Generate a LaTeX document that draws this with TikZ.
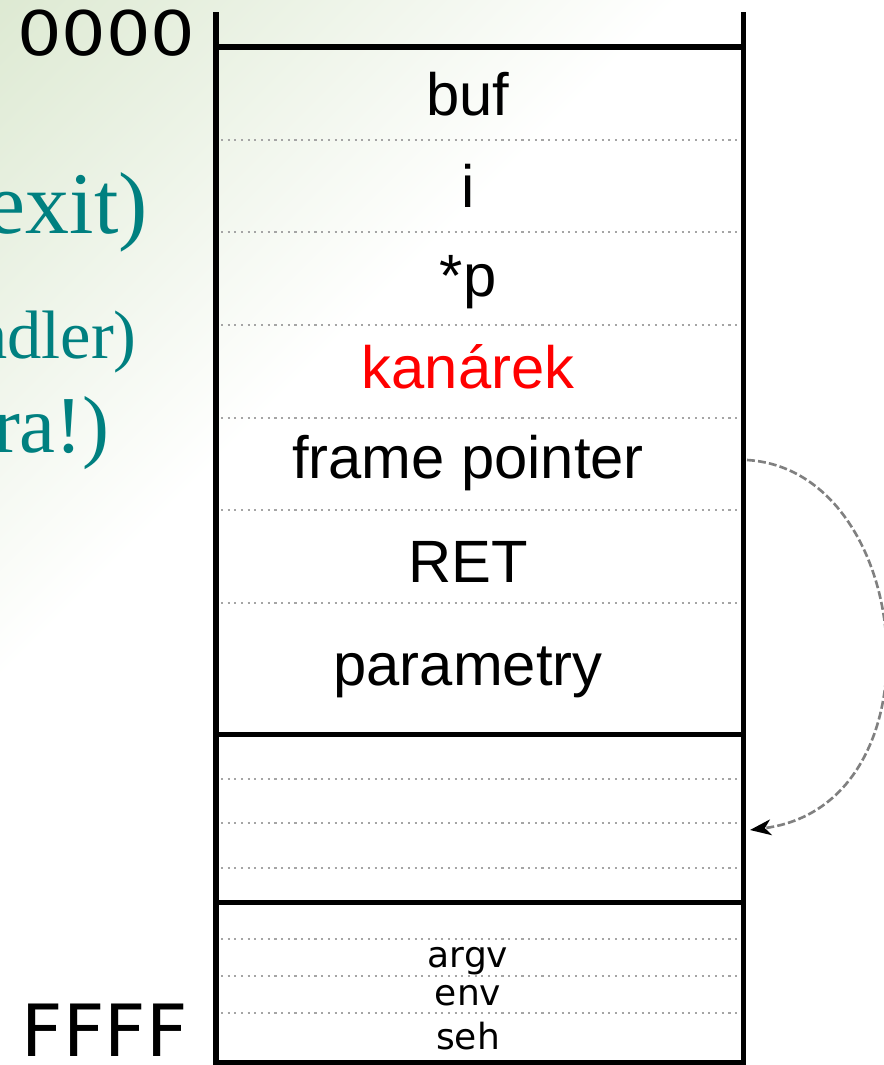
\documentclass[tikz,border=0pt]{standalone}
\usepackage{fontspec}
\usetikzlibrary{arrows.meta, positioning}
\newfontfamily\stackfont{Liberation Sans}
\newfontfamily\addrfont{DejaVu Sans}
\newfontfamily\slidefont{Liberation Serif}
\definecolor{SlideGreen}{RGB}{208, 225, 193}
\definecolor{SlideTeal}{RGB}{0, 128, 128}
\definecolor{CanaryRed}{RGB}{255, 0, 0}
\definecolor{SlotGray}{RGB}{165, 165, 165}
\pgfdeclareverticalshading{slidefade}{100bp}{color(0bp)=(white); color(50bp)=(white); color(72bp)=(SlideGreen!45!white); color(100bp)=(SlideGreen)}

\begin{document}
\begin{tikzpicture}[x=0.02cm, y=-0.02cm,
    wall/.style={line width=2.85pt},
    slot/.style={SlotGray, line width=1.2pt, dash pattern=on 1.2pt off 2.6pt},
    cell/.style={anchor=base, font=\stackfont\fontsize{34}{40}\selectfont},
    small cell/.style={anchor=base, inner sep=0pt, font=\addrfont\fontsize{20.5}{24}\selectfont},
    addr/.style={anchor=base east, inner sep=0pt, font=\addrfont\fontsize{35}{40}\selectfont},
    slide/.style={anchor=base east, inner sep=0pt, SlideTeal, font=\slidefont\fontsize{50}{56}\selectfont},
    ptr/.style={gray, line width=1.5pt, dash pattern=on 4.5pt off 1.8pt,
      -{Stealth[black, length=12pt, width=9pt, inset=3.5pt]}}]
    \useasboundingbox (0,0) rectangle (884,1065);

    % Slide background
    \shade[shading=slidefade, shading angle=45] (0,0) -- (680,0) -- (0,680) -- cycle;

    % Slide text behind the stack
    \node[slide] (exit) at (148,233) {exit)};
    \node[slide, font=\slidefont\fontsize{39}{44}\selectfont] (handler) at (137,358) {ndler)};
    \node[slide, font=\slidefont\fontsize{46}{52}\selectfont] (extra) at (110,452) {ra!)};

    % Slots
    \foreach \y in {140, 232, 325, 418, 510, 603, 779, 823, 868, 939, 976, 1013}
      \draw[slot] (221,\y) -- (738,\y);

    % Stack walls and frame borders
    \draw[wall] (216,12) -- (216,1062) -- (743,1062) -- (743,12);
    \foreach \y in {47, 734, 902}
      \draw[wall] (216,\y) -- (743,\y);

    % Addresses
    \node[addr, xscale=1.14] (low) at (196,55) {0000};
    \node[addr, font=\addrfont\fontsize{41}{46}\selectfont] (high) at (188,1056) {FFFF};

    % Current frame
    \node[cell] (buf) at (468,115) {buf};
    \node[cell] (i) at (468,207) {i};
    \node[cell] (p) at (468,296) {*p};
    \node[cell, CanaryRed] (canary) at (468,388) {kanárek};
    \node[cell] (fp) at (468,478) {frame pointer};
    \node[cell] (ret) at (468,582) {RET};
    \node[cell] (params) at (468,685) {parametry};

    % Bottom of the stack
    \node[small cell] (argv) at (468,967) {argv};
    \node[small cell] (env) at (468,1005) {env};
    \node[small cell] (seh) at (468,1049) {seh};

    % Saved frame pointer
    \coordinate (fpslot) at (747,460);
    \coordinate (oldframe) at (750,830);
    \draw[ptr] (fpslot) .. controls (915,470) and (945,805) .. (oldframe);
\end{tikzpicture}
\end{document}
